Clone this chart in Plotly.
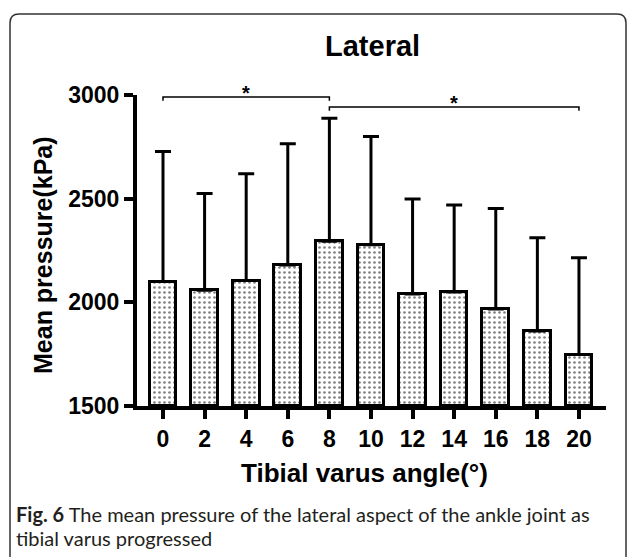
import plotly.graph_objects as go

# ---------------- data ----------------
angles = [0, 2, 4, 6, 8, 10, 12, 14, 16, 18, 20]
mean_pressure = [2100, 2058, 2105, 2180, 2295, 2278, 2040, 2050, 1968, 1862, 1748]
upper_sd = [2727, 2525, 2620, 2765, 2888, 2800, 2498, 2470, 2452, 2312, 2215]
sd = [u - m for u, m in zip(upper_sd, mean_pressure)]
y_ticks = [1500, 2000, 2500, 3000]

comparisons = [(0, 8), (8, 20)]
bracket_levels = [2990, 2942]
bracket_labels = ["*", "*"]

title_text = "Lateral"
y_title = "Mean pressure(kPa)"
x_title = "Tibial varus angle(°)"
caption_1 = "<b>Fig. 6</b> The mean pressure of the lateral aspect of the ankle joint as"
caption_2 = "tibial varus progressed"

# ---------------- layout geometry ----------------
W, H = 627, 557
ML, MR, MT, MB = 137, 21, 95, 151
PW, PH = W - ML - MR, H - MT - MB


def px(x):
    return (x - ML) / PW


def py(y):
    return (H - MB - y) / PH


FONT = "Liberation Sans, Arial, sans-serif"

fig = go.Figure()

fig.add_trace(go.Bar(
    x=angles,
    y=[m - 1500 for m in mean_pressure],
    base=1500,
    width=1.28,
    marker=dict(
        color="white",
        line=dict(color="black", width=3),
        pattern=dict(shape=".", fgcolor="black", bgcolor="white", size=5, solidity=0.22),
    ),
    error_y=dict(type="data", array=sd, arrayminus=[0] * len(sd), symmetric=False,
                 thickness=3, width=8, color="black"),
    showlegend=False,
    hoverinfo="skip",
))

drop = 18
for (a0, a1), lvl, lab in zip(comparisons, bracket_levels, bracket_labels):
    fig.add_trace(go.Scatter(
        x=[a0, a0, a1, a1], y=[lvl - drop, lvl, lvl, lvl - drop],
        mode="lines", line=dict(color="black", width=1.5),
        showlegend=False, hoverinfo="skip", cliponaxis=False,
    ))
    fig.add_annotation(x=(a0 + a1) / 2, y=lvl, text=f"<b>{lab}</b>", showarrow=False,
                       xref="x", yref="y", yanchor="bottom", yshift=-9,
                       font=dict(family=FONT, size=20, color="black"))

fig.update_xaxes(
    range=[-1.25, 21.3], tickvals=angles, ticktext=[str(a) for a in angles],
    showline=True, linewidth=4, linecolor="black",
    ticks="outside", ticklen=9, tickwidth=4, tickcolor="black",
    showgrid=False, zeroline=False,
    tickfont=dict(family=FONT, size=23, color="black", weight="bold"),
)
fig.update_yaxes(
    range=[1500, 3000], tickvals=y_ticks,
    showline=True, linewidth=4, linecolor="black",
    ticks="outside", ticklen=9, tickwidth=4, tickcolor="black",
    showgrid=False, zeroline=False,
    tickfont=dict(family=FONT, size=23, color="black", weight="bold"),
)

annotations = [
    dict(x=px(372), y=py(46), text=f"<b>{title_text}</b>", font=dict(family=FONT, size=29, color="black")),
    dict(x=px(43), y=py(255), text=f"<b>{y_title}</b>", textangle=-90,
         font=dict(family=FONT, size=25, color="black")),
    dict(x=px(364), y=py(473), text=f"<b>{x_title}</b>", font=dict(family=FONT, size=26, color="black")),
]
for a in annotations:
    a.update(xref="paper", yref="paper", showarrow=False, xanchor="center", yanchor="middle")
    fig.add_annotation(**a)

for txt, yy in [(caption_1, 514), (caption_2, 538)]:
    fig.add_annotation(x=px(14), y=py(yy), xref="paper", yref="paper", text=txt,
                       showarrow=False, xanchor="left", yanchor="middle",
                       font=dict(family="Lato, Open Sans, sans-serif", size=20, color="#231f20"))

# rounded frame around the figure
r = 9
x0, y0, x1, y1 = 10, 14, 626, 570
path = (f"M {px(x0)},{py(y1)} L {px(x0)},{py(y0 + r)} "
        f"Q {px(x0)},{py(y0)} {px(x0 + r)},{py(y0)} "
        f"L {px(x1 - r)},{py(y0)} Q {px(x1)},{py(y0)} {px(x1)},{py(y0 + r)} "
        f"L {px(x1)},{py(y1)}")
fig.add_shape(type="path", path=path, xref="paper", yref="paper",
              line=dict(color="#333333", width=1.5))

fig.update_layout(
    width=W, height=H,
    margin=dict(l=ML, r=MR, t=MT, b=MB),
    paper_bgcolor="white", plot_bgcolor="white",
    bargap=0,
)

fig.write_html("out.html")
